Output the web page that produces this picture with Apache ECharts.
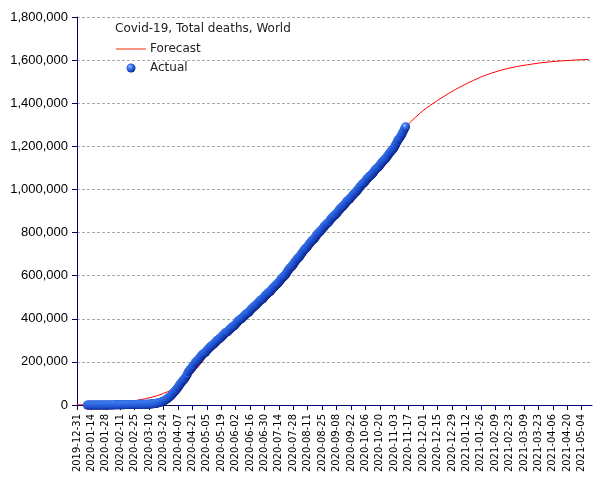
<!DOCTYPE html>
<html>
<head>
<meta charset="utf-8">
<script src="https://cdn.jsdelivr.net/npm/echarts@6/dist/echarts.min.js"></script>
<style>
html,body{margin:0;padding:0;background:#fff;}
#chart{width:605px;height:480px;}
</style>
</head>
<body>
<div id="chart"></div>
<script>
var startDate = '2019-12-31';
var chartTitle = 'Covid-19, Total deaths, World';
var seriesNames = ['Forecast', 'Actual'];

// Actual: one value per day, starting at actualFirstDate
var actualFirstDate = '2020-01-10';
var actualJan = [1,1,1,1,1,2,2,2,3,3,6,9,17,18,26,42,56,82,131,133,171,213];
var actualFeb = [259,362,426,492,564,634,719,806,906,1013,1113,1118,1371,1523,1666,1770,1868,2007,2122,2247,2251,2458,2469,2629,2708,2770,2814,2872,2941];
var actualMar = [2996,3085,3160,3254,3348,3460,3558,3803,3996,4262,4615,4720,5404,5819,6440,7126,7905,8733,9867,11299,12973,14651,16505,18625,21181,23970,27198,30652,33925,37582,42107];
var actualApr = [46809,52983,58787,64606,69374,74565,81865,88338,95455,102525,108503,114091,119482,125983,134176,141677,153822,159510,165044,170422,177641,183748,190635,197159,203000,206544,212000,218000,224000,230000];
var actualMay = [235000,239000,242000,246000,252000,257000,263000,268000,272000,276000,280000,284000,289000,294000,299000,303000,307000,310000,315000,320000,325000,330000,335000,338000,340000,344000,349000,354000,359000,363000,366000];
var actualJun = [370000,375000,381000,386000,392000,396000,399000,402000,407000,412000,417000,421000,425000,428000,431000,438000,443000,448000,453000,457000,461000,465000,470000,475000,481000,486000,489000,492000,496000,503000];
var actualJul = [508000,513000,518000,522000,525000,529000,535000,541000,546000,551000,556000,561000,565000,570000,576000,582000,588000,594000,598000,602000,609000,617000,624000,631000,637000,641000,646000,652000,660000,666000,673000];
var actualAug = [679000,683000,688000,695000,702000,709000,716000,721000,726000,731000,737000,744000,750000,756000,762000,766000,770000,776000,783000,790000,796000,801000,805000,810000,816000,822000,828000,834000,839000,843000,847000];
var actualSep = [853000,860000,866000,871000,876000,880000,884000,889000,895000,901000,907000,912000,917000,921000,926000,932000,938000,944000,949000,953000,957000,963000,969000,975000,980000,985000,989000,995000,1001000,1008000];
var actualOct = [1014000,1020000,1025000,1029000,1033000,1039000,1045000,1051000,1057000,1061000,1065000,1069000,1075000,1081000,1087000,1093000,1098000,1101000,1106000,1112000,1119000,1125000,1131000,1136000,1140000,1145000,1152000,1159000,1166000,1172000,1178000];
var actualNov = [1183000,1188000,1196000,1205000,1214000,1223000,1232000,1238000,1244000,1253000,1262000,1272000,1282000,1291000];

// Forecast: day offsets from startDate and values
var forecastDays = [
0,7,14,21,28,35,42,49,56,63,70,77,84,91,98,105,112,119,126,133,140,147,154,161,168,175,182,189,196,203,
210,217,224,231,238,245,252,259,266,273,280,287,294,301,308,315,322,329,336,343,350,357,364,371,378,385,
392,399,406,413,420,427,434,441,448,455,462,469,476,483,490,497
];
var forecastValues = [
500,1000,2000,3500,5000,7500,10000,14500,20000,26000,33000,42000,54000,68000,88000,115000,148000,185000,228000,268000,
318000,345000,375000,405000,437000,470000,505000,540000,578000,615000,
655000,695000,735000,775000,815000,855000,893000,930000,965000,1005000,1040000,1078000,1115000,1155000,1200000,1250000,
1304000,1336000,1366000,1390000,1413000,1434000,1454000,1473000,1490000,1506000,
1521000,1534000,1545000,1555000,1563000,1570000,1576000,1581000,1586000,1590000,1593000,1596000,1598000,1600000,1602000,1603000
];

var xMaxDay = 500;
var tickStepDays = 14;
var yMax = 1800000;
var yStep = 200000;

var DAY = 86400000;
var t0 = Date.parse(startDate + 'T00:00:00Z');
function dayOf(s){ return Math.round((Date.parse(s + 'T00:00:00Z') - t0) / DAY); }
function dateOf(d){ return new Date(t0 + d * DAY).toISOString().slice(0, 10); }
var tickDays = [];
for (var d = 0; d <= xMaxDay; d += tickStepDays) tickDays.push(d);

var actualValues = [].concat(actualJan, actualFeb, actualMar, actualApr, actualMay, actualJun,
  actualJul, actualAug, actualSep, actualOct, actualNov);
var firstDay = dayOf(actualFirstDate);
var actualData = actualValues.map(function(v, i){ return [firstDay + i, v]; });
var forecastData = forecastDays.map(function(d, i){ return [d, forecastValues[i]]; });

var axisColor = '#000066';
var chart = echarts.init(document.getElementById('chart'), null, {renderer: 'canvas'});
chart.setOption({
  animation: false,
  backgroundColor: '#ffffff',
  title: {
    text: chartTitle, left: 115, top: 23, padding: 0,
    textStyle: {fontFamily: 'DejaVu Sans', fontSize: 12, fontWeight: 'normal', color: '#222'}
  },
  legend: {
    orient: 'vertical', left: 116, top: 42, padding: 0,
    itemWidth: 30, itemHeight: 9, itemGap: 5,
    textStyle: {fontFamily: 'DejaVu Sans', fontSize: 12, color: '#222', lineHeight: 14, padding: [0,0,0,-1]},
    data: [
      {name: seriesNames[0], icon: 'path://M0,0L30,0L30,1L0,1Z', itemStyle: {color: '#ff2200'}},
      {name: seriesNames[1], icon: 'circle'}
    ],
    selectedMode: false
  },
  grid: {left: 77, right: 13, top: 17, bottom: 75, containLabel: false},
  xAxis: {
    type: 'value', min: 0, max: xMaxDay, interval: tickStepDays,
    axisLine: {show: true, onZero: false, lineStyle: {color: axisColor, width: 1}},
    axisTick: {show: true, length: 5, lineStyle: {color: axisColor}, customValues: tickDays},
    axisLabel: {
      rotate: 90, margin: 9, fontFamily: 'DejaVu Sans', fontSize: 10, color: '#000',
      customValues: tickDays,
      formatter: function(v){ return dateOf(v); }
    },
    splitLine: {show: false}
  },
  yAxis: {
    type: 'value', min: 0, max: yMax, interval: yStep,
    axisLine: {show: true, lineStyle: {color: axisColor, width: 1}},
    axisTick: {show: true, length: 5, lineStyle: {color: axisColor}},
    axisLabel: {
      margin: 9, fontFamily: 'Liberation Sans', fontSize: 13, color: '#000',
      formatter: function(v){ return v.toLocaleString('en-US'); }
    },
    splitLine: {show: true, lineStyle: {color: '#aaaaaa', type: [3, 2], width: 1}}
  },
  series: [
    {
      name: seriesNames[0], type: 'line', data: forecastData, showSymbol: false, symbol: 'none',
      smooth: 0.3, z: 2,
      lineStyle: {color: '#ff0000', width: 1},
      itemStyle: {color: '#ff0000'}
    },
    {
      name: seriesNames[1], type: 'scatter', data: actualData, symbol: 'circle', symbolSize: 9, z: 3,
      large: false,
      itemStyle: {
        opacity: 1,
        color: new echarts.graphic.RadialGradient(0.38, 0.35, 0.7, [
          {offset: 0, color: '#a9c8ff'},
          {offset: 0.35, color: '#3a78ee'},
          {offset: 0.75, color: '#1848c8'},
          {offset: 1, color: '#0a1870'}
        ])
      }
    }
  ]
});
</script>
</body>
</html>
